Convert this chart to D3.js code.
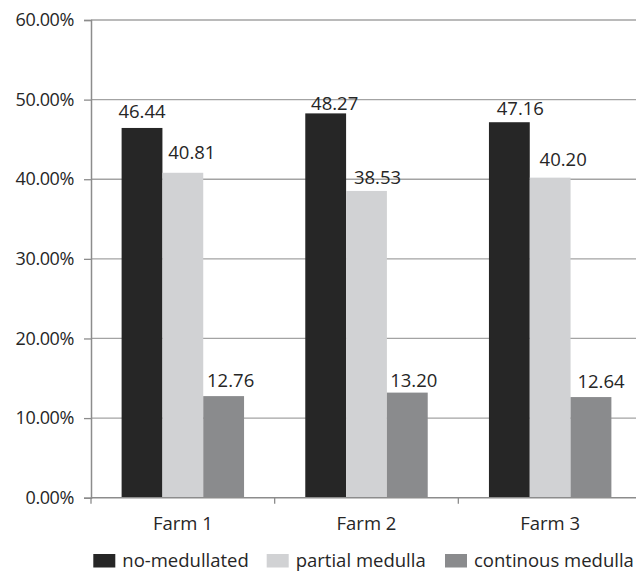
<!DOCTYPE html>
<html>
<head>
<meta charset="utf-8">
<script src="https://cdn.jsdelivr.net/npm/d3@7/dist/d3.min.js"></script>
<style>
  html, body { margin: 0; padding: 0; background: #fff; }
  svg { display: block; font-family: "Open Sans", sans-serif; }
</style>
</head>
<body>
<svg id="chart" width="636" height="571"></svg>
<script>
// Medulla type shares per farm (%)
const farms = ["Farm 1", "Farm 2", "Farm 3"];
const seriesNames = ["no-medullated", "partial medulla", "continous medulla"];
const noMedullated = [46.44, 48.27, 47.16];
const partialMedulla = [40.81, 38.53, 40.20];
const continousMedulla = [12.76, 13.20, 12.64];
const yTicks = [0, 10, 20, 30, 40, 50, 60];

const seriesValues = [noMedullated, partialMedulla, continousMedulla];
const colors = ["#262626", "#d1d2d4", "#8a8b8d"];

// label placement relative to the top centre of each bar [dx, dy], by series then farm
const labelNudge = [
  [[0, -10], [9, -3.5], [11, -7]],
  [[9, -14], [11, -6.5], [13, -11.5]],
  [[7, -9], [6.5, -5.5], [10, -9]]
];

const svg = d3.select("#chart");
const plotLeft = 91, plotRight = 642, plotTop = 20, plotBottom = 497.7;

const y = d3.scaleLinear().domain([0, 60]).range([plotBottom, plotTop]);
const x0 = d3.scaleBand().domain(farms).range([plotLeft, plotRight]).padding(0);
const x1 = d3.scaleBand().domain(seriesNames).range([0, x0.bandwidth()])
  .paddingInner(0).paddingOuter(0.75);

// horizontal gridlines
svg.append("g").selectAll("line").data(yTicks.filter(d => d > 0)).join("line")
  .attr("x1", plotLeft).attr("x2", 636)
  .attr("y1", d => y(d)).attr("y2", d => y(d))
  .attr("stroke", "#a3a3a3").attr("stroke-width", 1.3);

// bars
const groups = svg.append("g").selectAll("g").data(farms).join("g")
  .attr("transform", d => `translate(${x0(d)},0)`);

const cells = (f, fi) => seriesNames.map((s, si) => ({ s, si, fi, v: seriesValues[si][fi] }));

groups.selectAll("rect").data(cells).join("rect")
  .attr("x", d => x1(d.s))
  .attr("width", x1.bandwidth())
  .attr("y", d => y(d.v))
  .attr("height", d => y(0) - y(d.v))
  .attr("fill", d => colors[d.si]);

groups.selectAll("text").data(cells).join("text")
  .attr("x", d => x1(d.s) + x1.bandwidth() / 2 + labelNudge[d.si][d.fi][0])
  .attr("y", d => y(d.v) + labelNudge[d.si][d.fi][1])
  .attr("text-anchor", "middle")
  .attr("font-size", 18.5)
  .attr("fill", "#262626")
  .text(d => d.v.toFixed(2));

// y axis
const yAxis = svg.append("g").attr("transform", `translate(${plotLeft},0)`)
  .attr("font-family", "'Open Sans', sans-serif")
  .attr("font-size", 18)
  .call(d3.axisLeft(y).tickValues(yTicks).tickSize(7).tickPadding(10)
    .tickFormat(d => d.toFixed(2) + "%"));
yAxis.attr("font-family", "'Open Sans', sans-serif").attr("font-size", 18);
yAxis.select(".domain").attr("stroke", "#8c8c8c").attr("stroke-width", 1.5);
yAxis.selectAll(".tick line").attr("stroke", "#8c8c8c").attr("stroke-width", 1.3);
yAxis.selectAll(".tick text").attr("fill", "#262626")
  .style("font-size", "18px").style("letter-spacing", "-0.4px");

// x axis line with category boundary ticks
svg.append("line").attr("x1", plotLeft).attr("x2", 636)
  .attr("y1", plotBottom).attr("y2", plotBottom)
  .attr("stroke", "#8c8c8c").attr("stroke-width", 1.5);
const boundaries = farms.map(f => x0(f)).concat([plotRight]);
svg.append("g").selectAll("line").data(boundaries).join("line")
  .attr("x1", d => d).attr("x2", d => d)
  .attr("y1", plotBottom).attr("y2", plotBottom + 6)
  .attr("stroke", "#8c8c8c").attr("stroke-width", 1.3);
svg.append("g").selectAll("text").data(farms).join("text")
  .attr("x", d => x0(d) + x0.bandwidth() / 2)
  .attr("y", 529.5)
  .attr("text-anchor", "middle")
  .attr("font-size", 18.5)
  .attr("fill", "#262626")
  .text(d => d);

// legend
const legendX = [93.3, 266.7, 445];
const legend = svg.append("g").selectAll("g").data(seriesNames).join("g")
  .attr("transform", (d, i) => `translate(${legendX[i]},0)`);
legend.append("rect").attr("x", 0).attr("y", 554).attr("width", 22).attr("height", 13.5)
  .attr("fill", (d, i) => colors[i]);
legend.append("text").attr("x", 29).attr("y", 566.5)
  .attr("font-size", 18.5).attr("fill", "#262626")
  .text(d => d);
</script>
</body>
</html>
